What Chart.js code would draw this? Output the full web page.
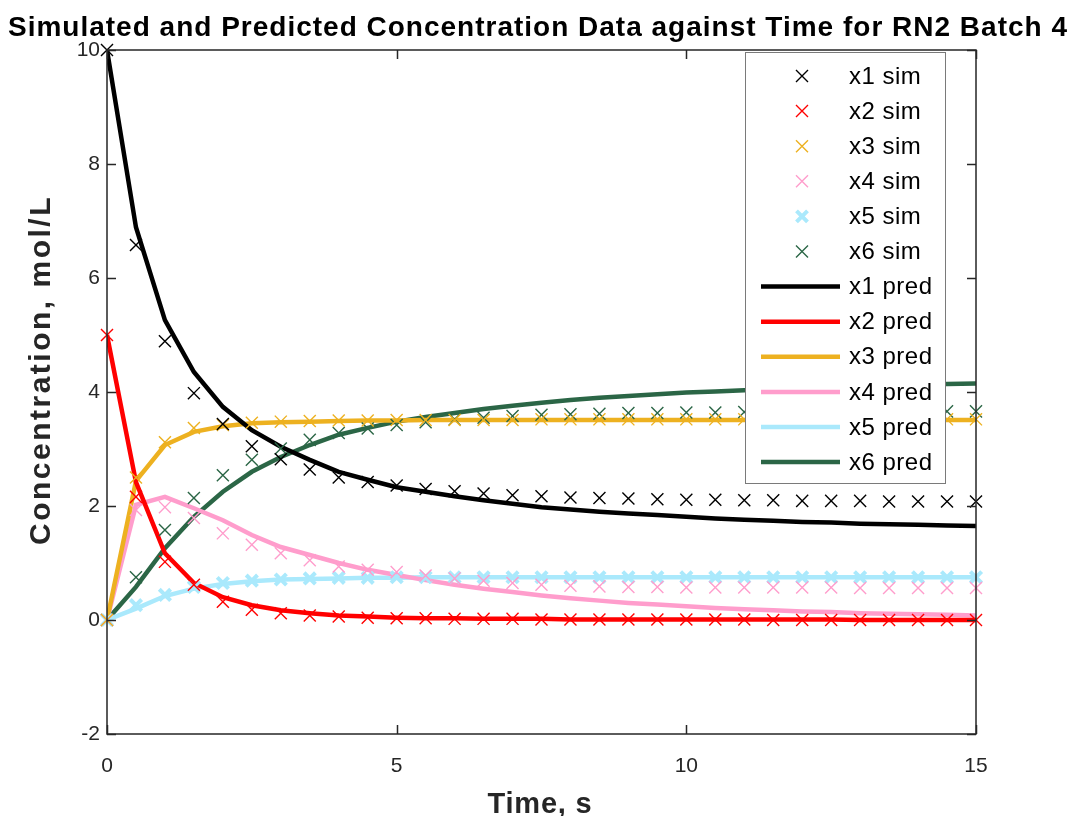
<!DOCTYPE html>
<html lang="en">
<head>
  <meta charset="UTF-8" />
  <title>Simulated and Predicted Concentration Data against Time for RN2 Batch 4</title>
  <script src="https://cdn.jsdelivr.net/npm/chart.js"></script>
  <style>
    html, body { margin: 0; padding: 0; background: white; }
    #wrap { width: 1072px; height: 816px; }
  </style>
</head>
<body>
  <div id="wrap"><canvas id="concChart" width="1072" height="816"></canvas></div>

  <script>
    // time points (s)
    const time = [0, 0.5, 1, 1.5, 2, 2.5, 3, 3.5, 4, 4.5, 5, 5.5, 6, 6.5, 7, 7.5,
                  8, 8.5, 9, 9.5, 10, 10.5, 11, 11.5, 12, 12.5, 13, 13.5, 14, 14.5, 15];

    // simulated concentrations (mol/L), read off the markers
    const x1Sim = [10, 6.58, 4.89, 3.98, 3.44, 3.05, 2.82, 2.64, 2.50, 2.42, 2.36, 2.30, 2.26, 2.22, 2.19, 2.17,
                   2.15, 2.14, 2.13, 2.12, 2.11, 2.11, 2.10, 2.10, 2.09, 2.09, 2.09, 2.08, 2.08, 2.08, 2.08];
    const x2Sim = [5, 2.16, 1.02, 0.62, 0.32, 0.18, 0.12, 0.08, 0.06, 0.04, 0.03, 0.03, 0.02, 0.02, 0.02, 0.01,
                   0.01, 0.01, 0.01, 0.01, 0.01, 0.01, 0.01, 0, 0, 0, 0, 0, 0, 0, 0];
    const x3Sim = [0, 2.50, 3.12, 3.37, 3.42, 3.46, 3.48, 3.49, 3.50, 3.50, 3.51, 3.51, 3.51, 3.51, 3.51, 3.52,
                   3.52, 3.52, 3.52, 3.52, 3.52, 3.52, 3.52, 3.52, 3.52, 3.52, 3.52, 3.52, 3.52, 3.52, 3.52];
    const x4Sim = [0, 1.93, 1.98, 1.79, 1.52, 1.32, 1.17, 1.05, 0.94, 0.88, 0.84, 0.78, 0.73, 0.69, 0.65, 0.62,
                   0.60, 0.59, 0.58, 0.58, 0.57, 0.57, 0.57, 0.57, 0.57, 0.57, 0.56, 0.56, 0.56, 0.56, 0.56];
    const x5Sim = [0, 0.26, 0.44, 0.58, 0.65, 0.69, 0.71, 0.73, 0.74, 0.74, 0.75, 0.75, 0.75, 0.75, 0.75, 0.75,
                   0.75, 0.75, 0.75, 0.75, 0.75, 0.75, 0.75, 0.75, 0.75, 0.75, 0.75, 0.75, 0.75, 0.75, 0.75];
    const x6Sim = [0, 0.75, 1.58, 2.14, 2.54, 2.81, 3.01, 3.16, 3.28, 3.36, 3.42, 3.47, 3.52, 3.55, 3.58, 3.60,
                   3.61, 3.62, 3.63, 3.63, 3.64, 3.64, 3.65, 3.65, 3.65, 3.65, 3.66, 3.66, 3.66, 3.66, 3.66];

    // predicted concentrations (mol/L)
    const x1Pred = [10, 6.89, 5.26, 4.35, 3.74, 3.33, 3.04, 2.81, 2.60, 2.46, 2.33, 2.25, 2.17, 2.10, 2.04, 1.98,
                    1.94, 1.90, 1.87, 1.84, 1.81, 1.78, 1.76, 1.74, 1.72, 1.71, 1.69, 1.68, 1.67, 1.66, 1.65];
    const x2Pred = [5, 2.42, 1.17, 0.65, 0.40, 0.26, 0.17, 0.12, 0.08, 0.06, 0.04, 0.03, 0.03, 0.02, 0.02, 0.02,
                    0.01, 0.01, 0.01, 0.01, 0.01, 0.01, 0.01, 0.01, 0.01, 0.01, 0, 0, 0, 0, 0];
    const x3Pred = [0, 2.44, 3.07, 3.30, 3.40, 3.45, 3.47, 3.48, 3.49, 3.50, 3.50, 3.51, 3.51, 3.51, 3.51, 3.51,
                    3.51, 3.51, 3.51, 3.51, 3.51, 3.51, 3.51, 3.51, 3.51, 3.51, 3.51, 3.51, 3.51, 3.51, 3.51];
    const x4Pred = [0, 2.02, 2.16, 1.96, 1.75, 1.49, 1.28, 1.14, 1.00, 0.88, 0.79, 0.70, 0.62, 0.55, 0.49, 0.43,
                    0.38, 0.34, 0.30, 0.27, 0.24, 0.21, 0.19, 0.17, 0.15, 0.14, 0.12, 0.11, 0.10, 0.09, 0.08];
    const x5Pred = [0, 0.20, 0.42, 0.55, 0.63, 0.68, 0.71, 0.72, 0.73, 0.74, 0.74, 0.75, 0.75, 0.75, 0.75, 0.75,
                    0.75, 0.75, 0.75, 0.75, 0.75, 0.75, 0.75, 0.75, 0.75, 0.75, 0.75, 0.75, 0.75, 0.75, 0.75];
    const x6Pred = [0, 0.58, 1.26, 1.81, 2.25, 2.60, 2.86, 3.07, 3.25, 3.37, 3.48, 3.56, 3.63, 3.70, 3.76, 3.81,
                    3.86, 3.90, 3.93, 3.96, 3.99, 4.01, 4.03, 4.05, 4.07, 4.09, 4.10, 4.12, 4.13, 4.14, 4.15];

    const simLabels = ['x1 sim', 'x2 sim', 'x3 sim', 'x4 sim', 'x5 sim', 'x6 sim'];
    const predLabels = ['x1 pred', 'x2 pred', 'x3 pred', 'x4 pred', 'x5 pred', 'x6 pred'];
    const colors = ['#000000', '#ff0000', '#edb120', '#ff9dcc', '#aae9fc', '#2b6646'];

    const titleText = 'Simulated and Predicted Concentration Data against Time for RN2 Batch 4';
    const xTitle = 'Time, s';
    const yTitle = 'Concentration, mol/L';

    const FONT = '"Liberation Sans", Arial, Helvetica, sans-serif';
    const AXIS = '#262626';

    const pts = vals => vals.map((v, i) => ({ x: time[i], y: v }));

    const simSets = [x1Sim, x2Sim, x3Sim, x4Sim, x5Sim, x6Sim].map((vals, i) => ({
      label: simLabels[i],
      data: pts(vals),
      showLine: false,
      pointStyle: 'crossRot',
      pointRadius: i === 4 ? 8 : 8.5,
      pointBorderWidth: i === 4 ? 4 : 1.4,
      borderColor: colors[i],
      backgroundColor: colors[i],
      clip: false
    }));

    const predSets = [x1Pred, x2Pred, x3Pred, x4Pred, x5Pred, x6Pred].map((vals, i) => ({
      label: predLabels[i],
      data: pts(vals),
      showLine: true,
      borderColor: colors[i],
      backgroundColor: colors[i],
      borderWidth: 4.5,
      pointRadius: 0,
      tension: 0,
      fill: false
    }));

    // axes box with inward ticks, legend box, titles
    const decor = {
      id: 'decor',
      afterDraw(chart) {
        const { ctx, chartArea: a, scales } = chart;
        const xs = scales.x, ys = scales.y;
        ctx.save();

        ctx.strokeStyle = AXIS;
        ctx.lineWidth = 1.5;
        ctx.strokeRect(a.left, a.top, a.right - a.left, a.bottom - a.top);
        ctx.beginPath();
        ys.ticks.forEach(t => {
          const py = Math.round(ys.getPixelForValue(t.value)) + 0.5;
          ctx.moveTo(a.left, py); ctx.lineTo(a.left + 9, py);
          ctx.moveTo(a.right, py); ctx.lineTo(a.right - 9, py);
        });
        xs.ticks.forEach(t => {
          const px = Math.round(xs.getPixelForValue(t.value)) + 0.5;
          ctx.moveTo(px, a.bottom); ctx.lineTo(px, a.bottom - 9);
          ctx.moveTo(px, a.top); ctx.lineTo(px, a.top + 9);
        });
        ctx.stroke();

        // legend
        const lx = 745, ly = 52, lw = 200, lh = 431;
        ctx.fillStyle = 'white';
        ctx.fillRect(lx, ly, lw, lh);
        ctx.strokeStyle = '#7a7a7a';
        ctx.lineWidth = 1;
        ctx.strokeRect(lx + 0.5, ly + 0.5, lw, lh);
        ctx.font = '24px ' + FONT;
        ctx.letterSpacing = '0.5px';
        ctx.textBaseline = 'middle';
        ctx.textAlign = 'left';
        chart.data.datasets.forEach((ds, i) => {
          const cy = 76 + i * 35.1;
          ctx.strokeStyle = ds.borderColor;
          ctx.beginPath();
          if (ds.showLine === false) {
            const r = ds.pointBorderWidth > 2 ? 5.5 : 6;
            ctx.lineWidth = ds.pointBorderWidth;
            ctx.moveTo(802 - r, cy - r); ctx.lineTo(802 + r, cy + r);
            ctx.moveTo(802 - r, cy + r); ctx.lineTo(802 + r, cy - r);
          } else {
            ctx.lineWidth = ds.borderWidth;
            ctx.moveTo(761, cy); ctx.lineTo(840, cy);
          }
          ctx.stroke();
          ctx.fillStyle = '#000';
          ctx.fillText(ds.label, 849, cy + 1);
        });

        // titles
        ctx.fillStyle = '#000';
        ctx.textBaseline = 'alphabetic';
        ctx.textAlign = 'center';
        ctx.font = 'bold 28px ' + FONT;
        ctx.letterSpacing = '1px';
        ctx.fillText(titleText, 538, 36);

        ctx.fillStyle = AXIS;
        ctx.font = 'bold 29px ' + FONT;
        ctx.letterSpacing = '0.8px';
        ctx.fillText(xTitle, 540, 813);

        ctx.translate(50, 370);
        ctx.rotate(-Math.PI / 2);
        ctx.font = 'bold 30px ' + FONT;
        ctx.letterSpacing = '2.5px';
        ctx.fillText(yTitle, 0, 0);
        ctx.restore();
      }
    };

    new Chart(document.getElementById('concChart'), {
      type: 'scatter',
      data: { datasets: [...simSets, ...predSets] },
      options: {
        responsive: false,
        animation: false,
        layout: { padding: { top: 50, right: 96, left: 0, bottom: 0 } },
        plugins: {
          legend: { display: false },
          title: { display: false },
          tooltip: { enabled: false }
        },
        scales: {
          x: {
            type: 'linear',
            min: 0,
            max: 15,
            afterFit: s => { s.height = 82; },
            afterBuildTicks: s => { s.ticks = [0, 5, 10, 15].map(v => ({ value: v })); },
            grid: { display: false, drawTicks: false },
            border: { display: false },
            ticks: { color: AXIS, padding: 20, font: { family: FONT, size: 21 }, maxRotation: 0 }
          },
          y: {
            min: -2,
            max: 10,
            afterFit: s => { s.width = 107; },
            grid: { display: false, drawTicks: false },
            border: { display: false },
            ticks: { stepSize: 2, color: AXIS, padding: 7, font: { family: FONT, size: 21 } }
          }
        }
      },
      plugins: [decor]
    });
  </script>
</body>
</html>
